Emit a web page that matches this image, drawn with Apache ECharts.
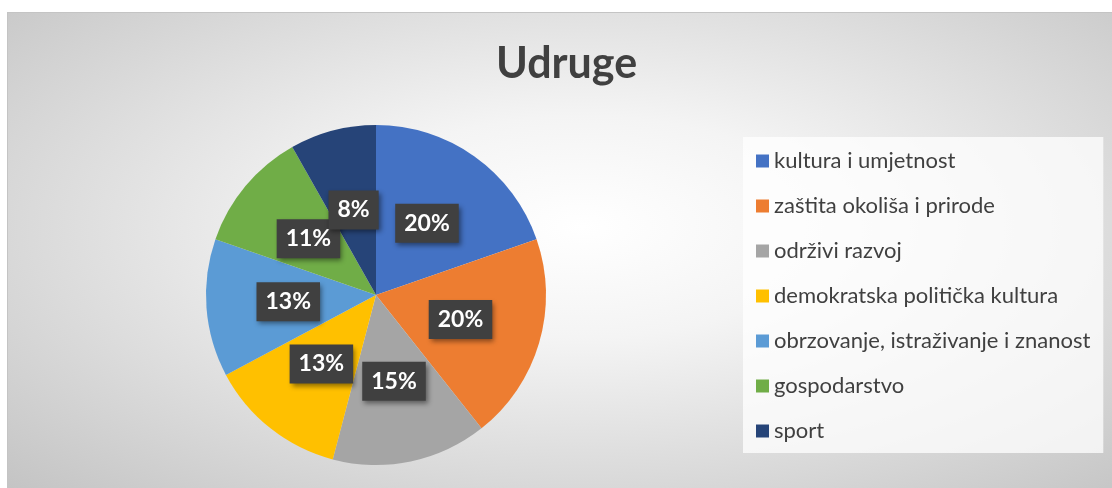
<!DOCTYPE html>
<html>
<head>
    <meta charset="utf-8">
    <title>Udruge</title>
    <script src="https://cdn.jsdelivr.net/npm/echarts@6/dist/echarts.min.js"></script>
    <style>
        body { margin: 0; background: #fff; }
        #main {
            position: absolute; left: 7px; top: 12px;
            width: 1105px; height: 476px;
            box-sizing: border-box;
            border-left: 1px solid #c4c4c4;
            border-top: 1px solid #c4c4c4;
            background: radial-gradient(ellipse at 52% 45%, #ffffff 0%, #f4f4f4 30%, #c4c4c4 100%);
        }
    </style>
</head>
<body>
<div id="main"></div>
<script type="text/javascript">
    // podaci
    var categories = ['kultura i umjetnost', 'zaštita okoliša i prirode', 'održivi razvoj',
        'demokratska politička kultura', 'obrzovanje, istraživanje i znanost', 'gospodarstvo', 'sport'];
    var counts = [12, 12, 9, 8, 8, 7, 5];
    var colors = ['#4472C4', '#ED7D31', '#A5A5A5', '#FFC000', '#5B9BD5', '#70AD47', '#264478'];

    var myChart = echarts.init(document.getElementById('main'));

    var pieData = [];
    for (var i = 0; i < categories.length; i++) {
        pieData.push({ name: categories[i], value: counts[i], itemStyle: { color: colors[i] } });
    }

    var option = {
        animation: false,
        title: {
            text: 'Udruge',
            left: 483,
            top: 25,
            textStyle: { fontFamily: 'Lato', fontSize: 43, fontWeight: 'bold', color: '#404040' }
        },
        legend: {
            orient: 'vertical',
            left: 735,
            top: 124,
            padding: [13, 13, 11, 13],
            backgroundColor: 'rgba(255,255,255,0.75)',
            itemWidth: 13,
            itemHeight: 13,
            itemGap: 23,
            icon: 'rect',
            data: categories,
            textStyle: { fontFamily: 'Lato', fontSize: 22, color: '#404040' }
        },
        series: [{
            type: 'pie',
            center: [368, 282],
            radius: 170,
            startAngle: 90,
            clockwise: true,
            percentPrecision: 0,
            avoidLabelOverlap: false,
            data: pieData,
            label: {
                position: 'inside',
                formatter: '{d}%',
                fontFamily: 'Lato',
                fontSize: 23,
                fontWeight: 'bold',
                color: '#ffffff',
                backgroundColor: '#404040',
                padding: [8, 9, 8, 9],
                shadowColor: 'rgba(0,0,0,0.45)',
                shadowBlur: 5,
                shadowOffsetX: 2,
                shadowOffsetY: 3
            },
            labelLayout: { hideOverlap: false },
            labelLine: { show: false },
            emphasis: { disabled: true }
        }]
    };
    myChart.setOption(option);
</script>
</body>
</html>
